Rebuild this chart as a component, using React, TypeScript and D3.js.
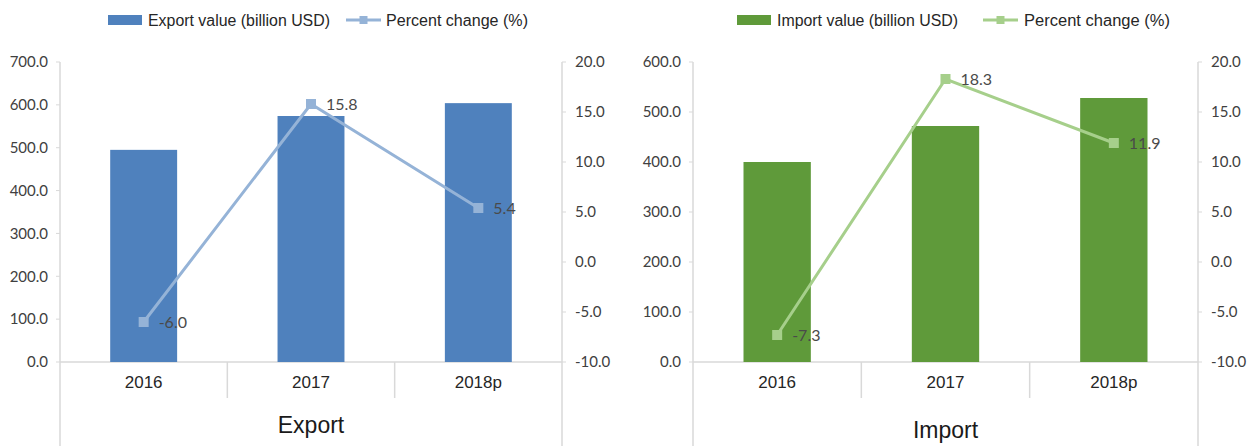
import * as d3 from "d3";
import { useEffect, useRef } from "react";

const years = ["2016", "2017", "2018p"];
const exportValues = [495, 574, 604];
const exportChange = [-6.0, 15.8, 5.4];
const importValues = [400, 472, 528];
const importChange = [-7.3, 18.3, 11.9];
const exportTicks = [0, 100, 200, 300, 400, 500, 600, 700];
const importTicks = [0, 100, 200, 300, 400, 500, 600];
const pctTicks = [-10, -5, 0, 5, 10, 15, 20];

const W = 1251;
const H = 446;

const panels = [
    {
        left: 60, right: 562, values: exportValues, change: exportChange, ticks: exportTicks,
        barName: "Export value (billion USD)", title: "Export", titleY: 425,
        barColor: "#4f81bd", lineColor: "#95b3d7",
        legend: { rectX: 108, text1X: 148, text1W: 182, lineX: 346, text2X: 386, text2W: 142 },
    },
    {
        left: 693, right: 1198, values: importValues, change: importChange, ticks: importTicks,
        barName: "Import value (billion USD)", title: "Import", titleY: 430,
        barColor: "#5f9a3a", lineColor: "#a6cf8b",
        legend: { rectX: 737, text1X: 777, text1W: 181, lineX: 983, text2X: 1024, text2W: 146 },
    },
];

const App = () => {
    const chartRef = useRef(null);

    useEffect(() => {
        const svg = d3.select(chartRef.current);
        svg.selectAll("*").remove();
        const top = 62;
        const bottom = 362;
        const grid = "#d9d9d9";
        const axisFont = "Lato, 'Open Sans', sans-serif";
        const narrow = "'Liberation Sans Narrow', 'Arial Narrow', 'Liberation Sans', Arial, sans-serif";

        panels.forEach(p => {
            const g = svg.append("g");
            const x = d3.scaleBand().domain(years).range([p.left, p.right]).paddingInner(0).paddingOuter(0);
            const y = d3.scaleLinear().domain([0, d3.max(p.ticks)]).range([bottom, top]);
            const y2 = d3.scaleLinear().domain([-10, 20]).range([bottom, top]);

            // frame lines
            [p.left, p.right].forEach(xx => {
                g.append("line").attr("x1", xx).attr("x2", xx).attr("y1", top).attr("y2", H)
                    .attr("stroke", grid).attr("stroke-width", 1.5);
            });
            g.append("line").attr("x1", p.left).attr("x2", p.right).attr("y1", bottom).attr("y2", bottom)
                .attr("stroke", grid).attr("stroke-width", 1.5);
            years.slice(1).forEach(yr => {
                g.append("line").attr("x1", x(yr)).attr("x2", x(yr)).attr("y1", bottom).attr("y2", 398)
                    .attr("stroke", grid).attr("stroke-width", 1.5);
            });

            // left axis
            p.ticks.forEach(t => {
                g.append("line").attr("x1", p.left - 4).attr("x2", p.left).attr("y1", y(t)).attr("y2", y(t))
                    .attr("stroke", grid);
                g.append("text").attr("x", p.left - 12).attr("y", y(t)).attr("dy", "0.35em")
                    .attr("text-anchor", "end").style("font-family", axisFont).style("font-size", "15px")
                    .style("fill", "#404040").text(t.toFixed(1));
            });
            // right axis
            pctTicks.forEach(t => {
                g.append("line").attr("x1", p.right).attr("x2", p.right + 4).attr("y1", y2(t)).attr("y2", y2(t))
                    .attr("stroke", grid);
                g.append("text").attr("x", p.right + 13).attr("y", y2(t)).attr("dy", "0.35em")
                    .style("font-family", axisFont).style("font-size", "15px")
                    .style("fill", "#404040").text(t.toFixed(1));
            });

            // bars
            const bw = x.bandwidth() * 0.4;
            g.selectAll(".bar").data(p.values).enter().append("rect")
                .attr("x", (d, i) => x(years[i]) + x.bandwidth() / 2 - bw / 2)
                .attr("y", d => y(d))
                .attr("width", bw)
                .attr("height", d => bottom - y(d))
                .style("fill", p.barColor);

            // line
            const line = d3.line().x((d, i) => x(years[i]) + x.bandwidth() / 2).y(d => y2(d));
            g.append("path").datum(p.change).attr("d", line)
                .attr("fill", "none").attr("stroke", p.lineColor).attr("stroke-width", 3);
            g.selectAll(".mk").data(p.change).enter().append("rect")
                .attr("x", (d, i) => x(years[i]) + x.bandwidth() / 2 - 5)
                .attr("y", d => y2(d) - 5)
                .attr("width", 10).attr("height", 10)
                .style("fill", p.lineColor);
            g.selectAll(".lbl").data(p.change).enter().append("text")
                .attr("x", (d, i) => x(years[i]) + x.bandwidth() / 2 + 15)
                .attr("y", d => y2(d))
                .attr("dy", "0.35em")
                .style("font-family", axisFont).style("font-size", "16px").style("fill", "#4a4a4a")
                .text(d => d.toFixed(1));

            // category labels
            years.forEach(yr => {
                g.append("text").attr("x", x(yr) + x.bandwidth() / 2).attr("y", 382).attr("dy", "0.35em")
                    .attr("text-anchor", "middle").style("font-family", "'Liberation Sans', Arial, sans-serif")
                    .style("font-size", "17px").style("fill", "#262626").text(yr);
            });

            // title
            g.append("text").attr("x", (p.left + p.right) / 2).attr("y", p.titleY).attr("dy", "0.35em")
                .attr("text-anchor", "middle").style("font-family", "'Liberation Sans', Arial, sans-serif")
                .style("font-size", "23px").style("fill", "#1a1a1a").text(p.title);

            // legend
            const L = p.legend;
            const ly = 20;
            g.append("rect").attr("x", L.rectX).attr("y", ly - 5).attr("width", 34).attr("height", 10)
                .style("fill", p.barColor);
            g.append("text").attr("x", L.text1X).attr("y", ly).attr("dy", "0.35em")
                .attr("textLength", L.text1W).attr("lengthAdjust", "spacingAndGlyphs")
                .style("font-family", narrow).style("font-size", "16px").style("fill", "#262626")
                .text(p.barName);
            g.append("line").attr("x1", L.lineX).attr("x2", L.lineX + 35).attr("y1", ly).attr("y2", ly)
                .attr("stroke", p.lineColor).attr("stroke-width", 3);
            g.append("rect").attr("x", L.lineX + 17.5 - 4).attr("y", ly - 4).attr("width", 8).attr("height", 8)
                .style("fill", p.lineColor);
            g.append("text").attr("x", L.text2X).attr("y", ly).attr("dy", "0.35em")
                .attr("textLength", L.text2W).attr("lengthAdjust", "spacingAndGlyphs")
                .style("font-family", narrow).style("font-size", "16px").style("fill", "#262626")
                .text("Percent change (%)");
        });
    }, []);

    return (
        <svg ref={chartRef} width={W} height={H}
            style={{ position: "absolute", left: 0, top: 0, background: "#fff" }}></svg>
    );
};

export default App;
